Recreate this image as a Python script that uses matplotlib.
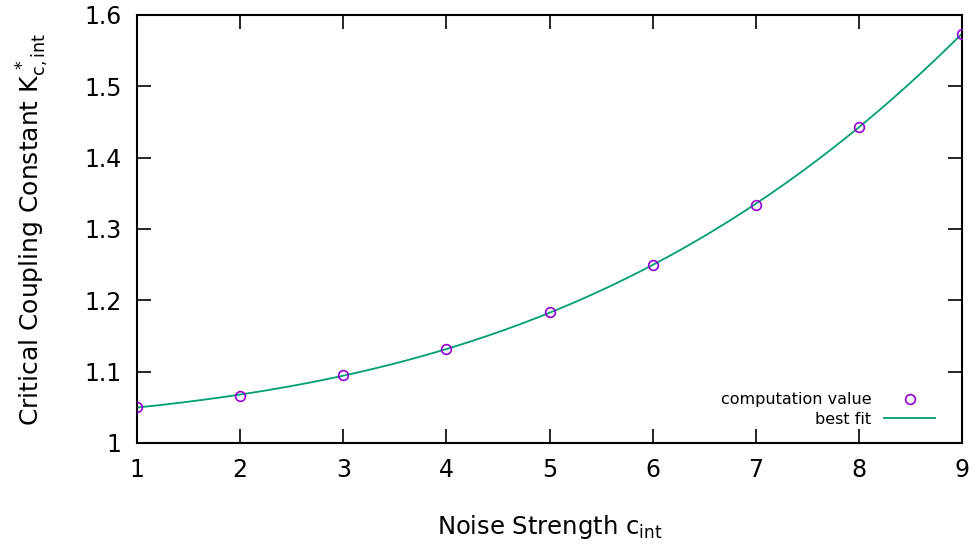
import numpy as np
import matplotlib.pyplot as plt

noise = [1, 2, 3, 4, 5, 6, 7, 8, 9]
k_crit = [1.0505, 1.066, 1.095, 1.132, 1.183, 1.250, 1.334, 1.443, 1.574]

x_ticks = [1, 2, 3, 4, 5, 6, 7, 8, 9]
y_ticks = [1, 1.1, 1.2, 1.3, 1.4, 1.5, 1.6]
y_tick_labels = ["1", "1.1", "1.2", "1.3", "1.4", "1.5", "1.6"]

# cubic fit through the computed points
coef = np.polyfit(noise, k_crit, 3)
xs = np.linspace(1, 9, 200)
fit = np.polyval(coef, xs)

fig = plt.figure(figsize=(9.76, 5.45), dpi=100)
ax = fig.add_axes([0.1404, 0.1872, 0.8453, 0.7853])

ax.plot(noise, k_crit, "o", mfc="none", mec="#9400d3", ms=7, mew=1.2,
        label="computation value", zorder=3)
ax.plot(xs, fit, color="#009e73", lw=1.3, label="best fit")

ax.set_xlim(1, 9)
ax.set_ylim(1, 1.6)
ax.set_xticks(x_ticks)
ax.set_yticks(y_ticks)
ax.set_yticklabels(y_tick_labels)
ax.tick_params(direction="in", length=10, width=1.2, top=True, right=True,
               labelsize=17, pad=11)
for s in ax.spines.values():
    s.set_linewidth(1.5)

ax.set_xlabel(r"Noise Strength c$_\mathregular{int}$", fontsize=17.5, labelpad=22)
ax.set_ylabel(r"Critical Coupling Constant K$_\mathregular{c,int}^{\,*}$",
              fontsize=18, labelpad=24)

ax.legend(loc="lower right", bbox_to_anchor=(0.987, 0.0), frameon=False,
          markerfirst=False, fontsize=11.5, handlelength=3.2,
          borderaxespad=0.6, labelspacing=0.3)

fig.savefig("out.png", dpi=100)
